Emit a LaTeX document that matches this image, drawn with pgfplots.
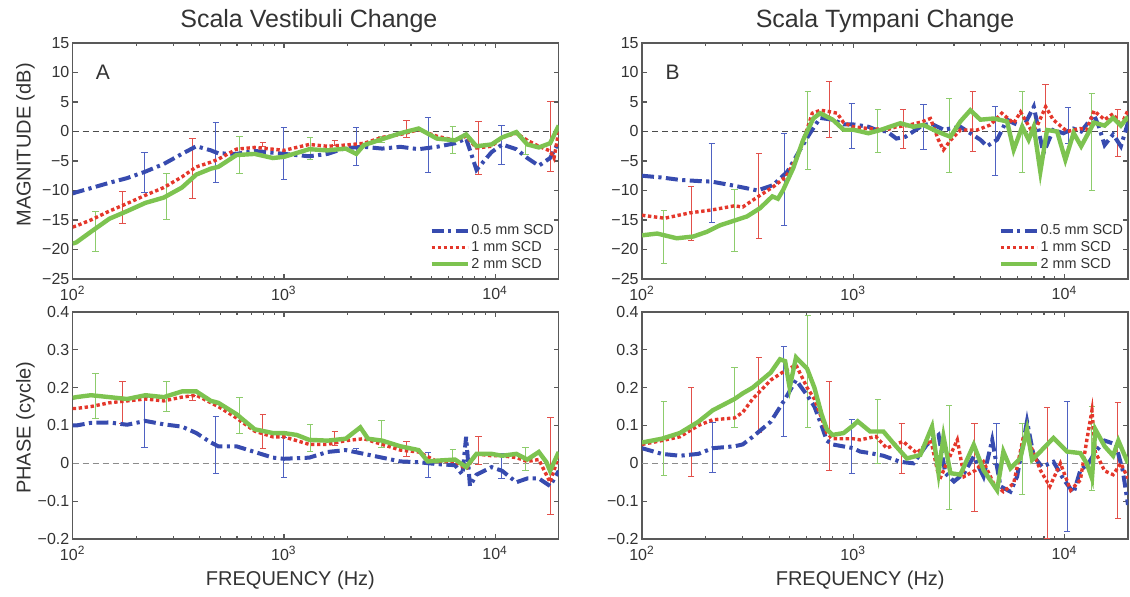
\documentclass[border=0pt]{standalone}
\usepackage{fontspec}
\setmainfont{Liberation Sans}
\usepackage{pgfplots}
\pgfplotsset{compat=1.18}
\definecolor{cBlue}{HTML}{374BAF}
\definecolor{cRed}{HTML}{E4372B}
\definecolor{cGreen}{HTML}{7DC350}
\definecolor{eBlue}{HTML}{4F62C2}
\definecolor{eRed}{HTML}{E2504A}
\definecolor{eGreen}{HTML}{8DCC6C}
\definecolor{txt}{HTML}{333333}
\pgfplotsset{
  bl/.style={color=cBlue, line width=2pt, dash pattern=on 6pt off 2.2pt on 1.6pt off 2.2pt, mark=none},
  rd/.style={color=cRed, line width=1.7pt, dash pattern=on 1.7pt off 1.3pt, mark=none},
  gr/.style={color=cGreen, line width=2.2pt, mark=none},
  eb/.style={forget plot, mark=none, color=#1, draw opacity=0,
    /pgfplots/error bars/y dir=both, /pgfplots/error bars/y explicit,
    /pgfplots/error bars/error mark=-,
    /pgfplots/error bars/error bar style={line width=0.5pt, solid, color=#1, draw opacity=1},
    /pgfplots/error bars/error mark options={rotate=90, line width=0.5pt, mark size=1.6pt, color=#1, solid, draw opacity=1}},
  zl/.style={forget plot, black!70, line width=0.5pt, dash pattern=on 3pt off 2pt},
  every axis/.append style={
    scale only axis,
    axis line style={black!65, line width=0.7pt},
    tick style={black!65, line width=0.6pt},
    major tick length=2.6pt, minor tick length=1.6pt,
    tick align=inside,
    tick label style={font=\fontsize{8}{9}\selectfont, text=txt},
    yticklabel style={inner sep=1.5pt},
    label style={font=\fontsize{10}{12}\selectfont, text=txt},
    title style={font=\fontsize{12.5}{14}\selectfont, text=txt, anchor=base, yshift=1.5pt, inner sep=0pt},
    legend style={draw=none, fill=none, at={(1,0)}, anchor=south east, xshift=-1.5pt, yshift=3pt,
      font=\fontsize{7.2}{8}\selectfont, text=txt, inner sep=0pt, row sep=0pt,
      nodes={text height=5.6pt, text depth=1.2pt, inner sep=0.8pt}},
    legend cell align=left,
  },
}
\begin{document}
\begin{tikzpicture}
\useasboundingbox (0,0) rectangle (565pt,298.5pt);
% ---------------- A ----------------
\begin{axis}[anchor=south west, at={(36.35pt,159pt)}, width=243pt, height=118pt,
  xmode=log, xmin=100, xmax=20000, xtick={100,1000,10000},
  minor xtick={200,300,400,500,600,700,800,900,2000,3000,4000,5000,6000,7000,8000,9000},
  xticklabels={10\textsuperscript{2},10\textsuperscript{3},10\textsuperscript{4}},
  ymin=-25, ymax=15, ytick={-25,-20,-15,-10,-5,0,5,10,15},
  yticklabels={−25,−20,−15,−10,−5,0,5,10,15},
  legend image code/.code={\draw[#1] (0pt,0pt) -- (18pt,0pt);},
  title={Scala Vestibuli Change}, title style={at={(axis description cs:0.486,1)}},
  ylabel={MAGNITUDE (dB)}, ylabel style={at={(axis description cs:-0.097,0.568)}, anchor=center}]
\addplot[zl] coordinates {(100,0) (20000,0)};
\addplot[eb=eBlue] coordinates {(219,-6.9) +- (0,3.4) (476,-3.6) +- (0,5.1) (1000,-3.8) +- (0,4.4) (2200,-2.55) +- (0,3.15) (4810,-2.25) +- (0,4.65) (10700,-2.3) +- (0,3.3)};
\addplot[eb=eRed] coordinates {(172,-12.85) +- (0,2.75) (369,-6.3) +- (0,5.1) (795,-2.15) +- (0,0.35) (1740,-1.95) +- (0,0.35) (3800,0.35) +- (0,1.45) (8330,-2.8) +- (0,4.5) (18300,-0.9) +- (0,5.9)};
\addplot[eb=eGreen] coordinates {(128,-16.95) +- (0,3.45) (278,-11.05) +- (0,3.85) (616,-3.95) +- (0,3.15) (1330,-2.85) +- (0,1.85) (2900,-1.3) +- (0,0.5) (6300,-1.45) +- (0,2.25) (13900,-2.65) +- (0,1.25)};
\addplot[bl] coordinates {(100,-10.5)(104,-10.3)(122,-9.6)(149,-8.7)(181,-7.9)(221,-6.8)(270,-5.5)(329,-3.8)(385,-2.5)(451,-3.2)(489,-3.7)(596,-3.8)(727,-3.3)(887,-3.6)(1000,-3.8)(1318,-4.2)(1608,-3.8)(1961,-2.8)(2392,-2.6)(2918,-2.9)(3559,-2.6)(4341,-3.0)(5296,-2.6)(6460,-2.0)(7290,-1.2)(8160,-6.5)(9620,-3.5)(10800,-2.2)(12600,-3.0)(14200,-4.5)(16100,-5.8)(18200,-4.5)(20000,-1.8)};
\addlegendentry{0.5 mm SCD}
\addplot[rd] coordinates {(100,-16.2)(104,-16)(122,-15)(149,-13.5)(181,-12.2)(221,-10.8)(270,-9.5)(329,-7.7)(385,-6)(451,-5.2)(489,-4.7)(596,-3)(727,-2.7)(887,-3.0)(1000,-3.2)(1318,-2.2)(1608,-2.5)(1961,-2.3)(2392,-2)(2918,-1)(3559,-0.5)(4341,0.3)(5296,-0.8)(6460,-1.5)(7290,-0.8)(8160,-2.8)(9620,-2.5)(10800,-1)(12600,-0.3)(14200,-1.5)(16100,-2.5)(18200,-3.3)(19000,-4.5)(20000,0)};
\addlegendentry{1 mm SCD}
\addplot[gr] coordinates {(100,-19)(104,-18.8)(122,-17)(149,-14.8)(181,-13.5)(221,-12.1)(270,-11.2)(329,-9.5)(385,-7.3)(451,-6.3)(489,-6)(596,-4)(727,-3.8)(887,-4.5)(1000,-4.3)(1318,-3.0)(1608,-3.2)(1961,-2.9)(2200,-3.8)(2392,-2.3)(2918,-1.3)(3559,-0.3)(4341,0.5)(5296,-1.2)(6460,-1.5)(7290,-0.5)(8160,-2.5)(9620,-2.2)(10800,-1)(12600,-0.1)(14200,-2.2)(16100,-2.7)(18200,-2.0)(20000,1.0)};
\addlegendentry{2 mm SCD}
\node[font=\fontsize{10.5}{12}\selectfont, text=txt] at (axis description cs:0.062,0.877) {A};
\end{axis}
% ---------------- B ----------------
\begin{axis}[anchor=south west, at={(321pt,159pt)}, width=243pt, height=118pt,
  xmode=log, xmin=100, xmax=20000, xtick={100,1000,10000},
  minor xtick={200,300,400,500,600,700,800,900,2000,3000,4000,5000,6000,7000,8000,9000},
  xticklabels={10\textsuperscript{2},10\textsuperscript{3},10\textsuperscript{4}},
  ymin=-25, ymax=15, ytick={-25,-20,-15,-10,-5,0,5,10,15},
  yticklabels={−25,−20,−15,−10,−5,0,5,10,15},
  legend image code/.code={\draw[#1] (0pt,0pt) -- (18pt,0pt);},
  title={Scala Tympani Change}, title style={at={(axis description cs:0.5,1)}}]
\addplot[zl] coordinates {(100,0) (20000,0)};
\addplot[eb=eBlue] coordinates {(214,-8.75) +- (0,6.75) (471,-8.15) +- (0,7.85) (985,0.9) +- (0,3.8) (2150,0.7) +- (0,3.8) (4700,-1.6) +- (0,5.9) (10400,1.05) +- (0,3.05)};
\addplot[eb=eRed] coordinates {(171,-13.85) +- (0,4.55) (358,-11) +- (0,7.2) (770,3.75) +- (0,4.75) (1722,0.45) +- (0,3.25) (3680,1.65) +- (0,5.1) (8120,4) +- (0,4) (17900,-0.25) +- (0,3.95)};
\addplot[eb=eGreen] coordinates {(127,-17.9) +- (0,4.5) (274,-15.1) +- (0,5.3) (610,0.15) +- (0,6.65) (1310,0.15) +- (0,3.65) (2850,-0.7) +- (0,6.3) (6300,-0.1) +- (0,6.9) (13500,-1.75) +- (0,8.25)};
\addplot[bl] coordinates {(100,-7.5)(124,-7.8)(151,-8.2)(185,-8.4)(214,-8.5)(274,-9.2)(352,-10.0)(417,-9.1)(488,-6.8)(560,-3.1)(624,-0.3)(697,2.3)(800,2.0)(900,1.2)(1000,1.2)(1180,0.8)(1300,0.2)(1447,0)(1600,-1.2)(1766,-0.9)(2080,0.8)(2320,1.4)(2675,0.3)(3215,0.8)(4000,-1.4)(4300,-2.5)(4800,-1.4)(5350,2.0)(5750,1.4)(6400,0.8)(7160,4.2)(7950,-3.7)(8840,0.25)(9890,-0.3)(11000,0.5)(12000,0)(13800,2.8)(14500,1.0)(15500,-2.3)(17000,-0.5)(18500,-2.5)(20000,1.5)};
\addlegendentry{0.5 mm SCD}
\addplot[rd] coordinates {(100,-14.2)(128,-14.7)(168,-13.8)(214,-13.3)(274,-12.6)(300,-12.8)(336,-11.6)(417,-9.4)(480,-7.7)(543,-4.3)(603,0.25)(640,3.1)(700,3.6)(760,3.4)(839,3.1)(900,1.5)(1000,0.8)(1180,0.5)(1447,0.3)(1600,0.8)(1800,1.0)(2100,1.6)(2320,2.2)(2530,-1.4)(2675,-3.1)(2886,-1.5)(3215,0.25)(3860,0.25)(4450,1.1)(5050,3.1)(5750,1.4)(6200,3.3)(6950,0.25)(7400,0.8)(8150,4.2)(8840,2.0)(10300,0.0)(11900,0.5)(12750,0.3)(13800,3.5)(15500,2.0)(17000,3.0)(18500,1.0)(20000,3.6)};
\addlegendentry{1 mm SCD}
\addplot[gr] coordinates {(100,-17.6)(118,-17.3)(146,-18.1)(175,-17.8)(203,-17.0)(234,-15.9)(274,-15.1)(314,-14.4)(362,-13.0)(414,-11.0)(440,-11.4)(466,-9.9)(520,-6.2)(580,-1.4)(647,2.2)(697,3.1)(800,2.0)(900,0.3)(1000,0.3)(1180,-0.3)(1343,0.25)(1671,1.4)(1923,0.8)(2152,1.1)(2494,0.0)(2886,-0.9)(3215,1.7)(3586,3.6)(4000,2.0)(4620,2.2)(5350,1.7)(5750,-3.1)(6310,0.8)(6770,-1.4)(7160,0.8)(7690,-6.8)(8270,0.25)(9230,0.0)(10100,-4.8)(11050,-0.25)(12000,-2.5)(13800,1.5)(15500,1.0)(17000,2.3)(18500,1.0)(20000,2.5)};
\addlegendentry{2 mm SCD}
\node[font=\fontsize{10.5}{12}\selectfont, text=txt] at (axis description cs:0.063,0.877) {B};
\end{axis}
% ---------------- C ----------------
\begin{axis}[anchor=south west, at={(36.35pt,29pt)}, width=243pt, height=113.5pt,
  xmode=log, xmin=100, xmax=20000, xtick={100,1000,10000},
  minor xtick={200,300,400,500,600,700,800,900,2000,3000,4000,5000,6000,7000,8000,9000},
  xticklabels={10\textsuperscript{2},10\textsuperscript{3},10\textsuperscript{4}},
  ymin=-0.2, ymax=0.4, ytick={-0.2,-0.1,0,0.1,0.2,0.3,0.4},
  yticklabels={−0.2,−0.1,0,0.1,0.2,0.3,0.4},
  xlabel={FREQUENCY (Hz)}, xlabel style={at={(axis description cs:0.448,-0.18)}, anchor=center},
  ylabel={PHASE (cycle)}, ylabel style={at={(axis description cs:-0.097,0.49)}, anchor=center}]
\addplot[zl, black!45] coordinates {(100,0) (20000,0)};
\addplot[eb=eBlue] coordinates {(219,0.109) +- (0,0.066) (476,0.0485) +- (0,0.0765) (1000,0.015) +- (0,0.052) (2200,0.034) +- (0,0.005) (4810,-0.004) +- (0,0.033) (10700,-0.0075) +- (0,0.0325)};
\addplot[eb=eRed] coordinates {(172,0.1605) +- (0,0.0545) (369,0.1725) +- (0,0.0075) (795,0.084) +- (0,0.046) (1740,0.065) +- (0,0.018) (3800,0.037) +- (0,0.02) (8330,0.035) +- (0,0.037) (18300,-0.008) +- (0,0.128)};
\addplot[eb=eGreen] coordinates {(128,0.1775) +- (0,0.0595) (278,0.1775) +- (0,0.0395) (616,0.1265) +- (0,0.0465) (1330,0.0665) +- (0,0.0365) (2900,0.078) +- (0,0.035) (6300,0.017) +- (0,0.019) (13900,0.011) +- (0,0.031)};
\addplot[bl] coordinates {(100,0.100)(104,0.100)(122,0.107)(149,0.108)(181,0.102)(221,0.112)(270,0.103)(329,0.097)(385,0.08)(451,0.055)(489,0.045)(596,0.045)(727,0.03)(887,0.015)(1000,0.012)(1318,0.015)(1608,0.03)(1961,0.035)(2392,0.025)(2918,0.015)(3559,0.005)(4341,0.003)(5296,-0.002)(6460,-0.005)(7000,-0.03)(7290,0.07)(7600,-0.06)(8160,-0.03)(9620,-0.01)(10800,-0.02)(12600,-0.05)(14200,-0.04)(16100,-0.04)(18200,-0.06)(20000,-0.02)};
\addplot[rd] coordinates {(100,0.145)(104,0.145)(122,0.15)(149,0.16)(181,0.165)(221,0.17)(270,0.165)(329,0.175)(385,0.18)(451,0.16)(489,0.15)(596,0.12)(727,0.085)(887,0.07)(1000,0.07)(1318,0.05)(1608,0.05)(1961,0.06)(2392,0.065)(2918,0.05)(3559,0.035)(4341,0.03)(5296,0.005)(6460,0.005)(7290,-0.015)(8160,0.025)(9620,0.02)(10800,0.02)(12600,0.015)(14200,0.005)(16100,0.01)(18200,-0.05)(20000,0.02)};
\addplot[gr] coordinates {(100,0.173)(104,0.175)(122,0.18)(149,0.175)(181,0.17)(221,0.18)(270,0.175)(329,0.19)(385,0.19)(451,0.165)(489,0.16)(596,0.13)(727,0.09)(887,0.08)(1000,0.08)(1150,0.075)(1318,0.062)(1608,0.06)(1961,0.065)(2300,0.095)(2500,0.065)(2918,0.06)(3559,0.045)(4341,0.035)(4800,0.005)(5296,0.007)(6460,0.01)(7290,-0.01)(8160,0.025)(9620,0.025)(10800,0.02)(12600,0.025)(14200,0.01)(16100,0.03)(17500,0.003)(18200,-0.02)(20000,0.03)};
\end{axis}
% ---------------- D ----------------
\begin{axis}[anchor=south west, at={(321pt,29pt)}, width=243pt, height=113.5pt,
  xmode=log, xmin=100, xmax=20000, xtick={100,1000,10000},
  minor xtick={200,300,400,500,600,700,800,900,2000,3000,4000,5000,6000,7000,8000,9000},
  xticklabels={10\textsuperscript{2},10\textsuperscript{3},10\textsuperscript{4}},
  ymin=-0.2, ymax=0.4, ytick={-0.2,-0.1,0,0.1,0.2,0.3,0.4},
  yticklabels={−0.2,−0.1,0,0.1,0.2,0.3,0.4},
  xlabel={FREQUENCY (Hz)}, xlabel style={at={(axis description cs:0.449,-0.18)}, anchor=center}]
\addplot[zl, black!45] coordinates {(100,0) (20000,0)};
\addplot[eb=eBlue] coordinates {(216,0.042) +- (0,0.067) (470,0.1905) +- (0,0.1185) (985,0.0435) +- (0,0.0715) (4770,0.051) +- (0,0.055) (10300,-0.008) +- (0,0.172)};
\addplot[eb=eRed] coordinates {(171,0.0825) +- (0,0.1175) (358,0.181) +- (0,0.099) (770,0.0995) +- (0,0.1175) (1700,0.04) +- (0,0.066) (3750,-0.0105) +- (0,0.1165) (8270,-0.026) +- (0,0.174) (17900,0.0075) +- (0,0.1525)};
\addplot[eb=eGreen] coordinates {(127,0.066) +- (0,0.098) (274,0.1745) +- (0,0.0795) (610,0.2425) +- (0,0.1475) (1310,0.085) +- (0,0.085) (2850,0.0145) +- (0,0.1375) (6300,0.012) +- (0,0.094) (13500,0.0395) +- (0,0.1115)};
\addplot[bl] coordinates {(100,0.04)(124,0.025)(151,0.02)(185,0.025)(216,0.04)(274,0.045)(300,0.05)(334,0.07)(407,0.11)(476,0.17)(536,0.22)(605,0.18)(655,0.15)(708,0.1)(750,0.06)(797,0.05)(1000,0.04)(1079,0.031)(1203,0.027)(1390,0.02)(1670,0.004)(1930,0.0)(2230,0.049)(2535,0.075)(2730,-0.026)(3000,-0.048)(3350,-0.026)(3720,0.018)(4140,-0.035)(4550,0.062)(4980,-0.061)(5550,-0.075)(5970,-0.035)(6650,0.111)(7160,0.018)(7830,-0.009)(8870,0.004)(9950,-0.044)(11050,-0.078)(11900,-0.018)(13000,0.0)(14000,0.03)(15500,0.06)(17500,0.05)(18900,-0.02)(20000,-0.11)};
\addplot[rd] coordinates {(100,0.05)(124,0.06)(151,0.07)(185,0.1)(216,0.115)(274,0.12)(300,0.135)(334,0.17)(407,0.22)(476,0.245)(536,0.26)(605,0.2)(655,0.17)(708,0.12)(750,0.08)(797,0.065)(1000,0.065)(1079,0.062)(1280,0.071)(1440,0.040)(1720,0.058)(2000,0.027)(2330,0.062)(2560,-0.044)(2770,0.0)(3110,0.062)(3350,-0.035)(3800,-0.018)(4140,0.004)(4620,-0.053)(5140,-0.075)(5750,-0.053)(6400,0.071)(6850,0.053)(7690,-0.018)(8530,-0.061)(9570,0.0)(10700,-0.071)(11900,-0.044)(12750,0.06)(13500,0.14)(14000,0.03)(15500,-0.02)(17000,-0.03)(18500,0.0)(20000,-0.04)};
\addplot[gr] coordinates {(100,0.055)(124,0.065)(151,0.08)(185,0.11)(216,0.14)(274,0.17)(300,0.185)(334,0.2)(407,0.24)(450,0.275)(476,0.27)(500,0.2)(536,0.28)(605,0.25)(655,0.2)(708,0.13)(750,0.09)(797,0.075)(900,0.08)(1000,0.1)(1050,0.111)(1203,0.084)(1390,0.084)(1550,0.053)(1795,0.013)(2078,0.022)(2361,0.097)(2535,-0.026)(2675,0.071)(2886,-0.026)(3215,-0.03)(3720,0.049)(4140,-0.018)(4800,-0.071)(5140,0.031)(5550,-0.013)(6180,0.013)(6650,0.089)(7030,0.009)(7690,0.031)(8870,0.067)(10300,0.031)(11900,0.027)(12750,0.0)(13500,-0.04)(14000,0.09)(15500,0.045)(17000,0.02)(18000,0.06)(20000,0.0)};
\end{axis}
\end{tikzpicture}
\end{document}
